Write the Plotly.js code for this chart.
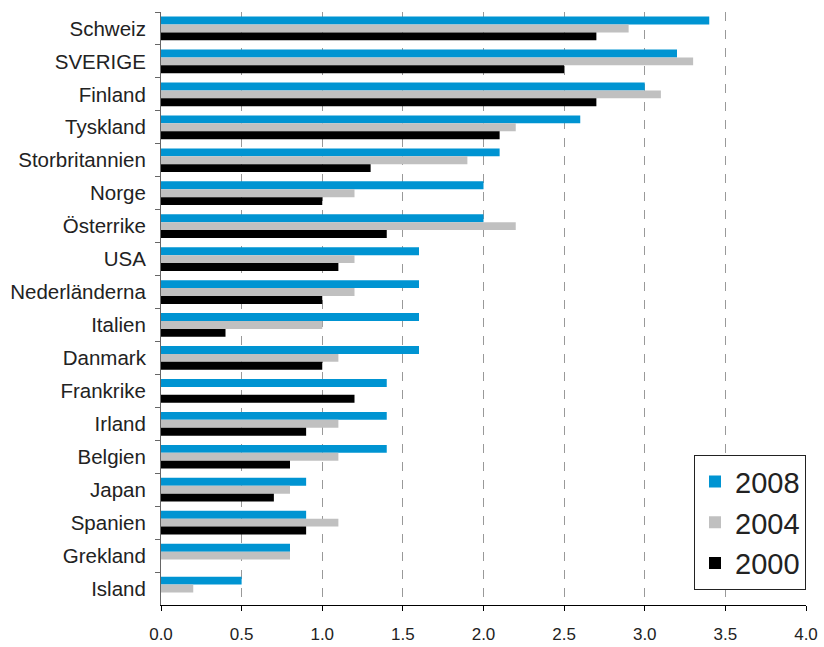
<!DOCTYPE html>
<html>
<head>
<meta charset="utf-8">
<script src="https://cdn.plot.ly/plotly-3.0.1.min.js"></script>
<style>html,body{margin:0;padding:0;background:#fff;}#chart{width:824px;height:647px;}</style>
</head>
<body>
<div id="chart"></div>
<script>
const countries = ["Schweiz","SVERIGE","Finland","Tyskland","Storbritannien","Norge","Österrike","USA","Nederländerna","Italien","Danmark","Frankrike","Irland","Belgien","Japan","Spanien","Grekland","Island"];
const v2008 = [3.4,3.2,3.0,2.6,2.1,2.0,2.0,1.6,1.6,1.6,1.6,1.4,1.4,1.4,0.9,0.9,0.8,0.5];
const v2004 = [2.9,3.3,3.1,2.2,1.9,1.2,2.2,1.2,1.2,1.0,1.1,null,1.1,1.1,0.8,1.1,0.8,0.2];
const v2000 = [2.7,2.5,2.7,2.1,1.3,1.0,1.4,1.1,1.0,0.4,1.0,1.2,0.9,0.8,0.7,0.9,null,null];
const seriesNames = ["2008","2004","2000"];
const colors = ["#0094d2","#c0c0c0","#000000"];
const seriesValues = [v2008, v2004, v2000];

const traces = seriesValues.map((vals, i) => ({
  type: "bar",
  orientation: "h",
  name: seriesNames[i],
  legendgroup: "g" + i,
  x: vals,
  y: countries,
  marker: {color: colors[i], line: {width: 0}},
  hoverinfo: "x+y+name"
}));

const layout = {
  width: 824, height: 647,
  margin: {l: 161, r: 18, t: 12, b: 42},
  paper_bgcolor: "#fff", plot_bgcolor: "#fff",
  font: {family: "Liberation Sans, Arial, sans-serif", size: 16, color: "#222"},
  barmode: "group",
  bargap: 0.28,
  bargroupgap: 0,
  showlegend: true,
  legend: {
    x: 1, xanchor: "right", y: 0.025, yanchor: "bottom",
    bgcolor: "#fff", bordercolor: "#222", borderwidth: 1,
    font: {size: 29, color: "#222"},
    traceorder: "grouped", tracegroupgap: 0
  },
  xaxis: {
    range: [0, 4], dtick: 0.5, tickformat: ".1f",
    showgrid: true, gridcolor: "#999", griddash: "dash", gridwidth: 1,
    zeroline: false,
    showline: true, linecolor: "#000", linewidth: 1,
    ticks: "outside", ticklen: 5, tickcolor: "#000",
    ticklabelstandoff: 9,
    tickfont: {size: 17, color: "#222"}
  },
  yaxis: {
    type: "category", autorange: "reversed",
    showgrid: false, zeroline: false,
    showline: true, linecolor: "#666", linewidth: 1,
    ticks: "outside", ticklen: 5, tickcolor: "#666", tickson: "boundaries",
    ticklabelstandoff: 10,
    tickfont: {size: 20.5, color: "#222"}
  }
};

Plotly.newPlot("chart", traces, layout, {displayModeBar: false, staticPlot: true});
</script>
</body>
</html>
